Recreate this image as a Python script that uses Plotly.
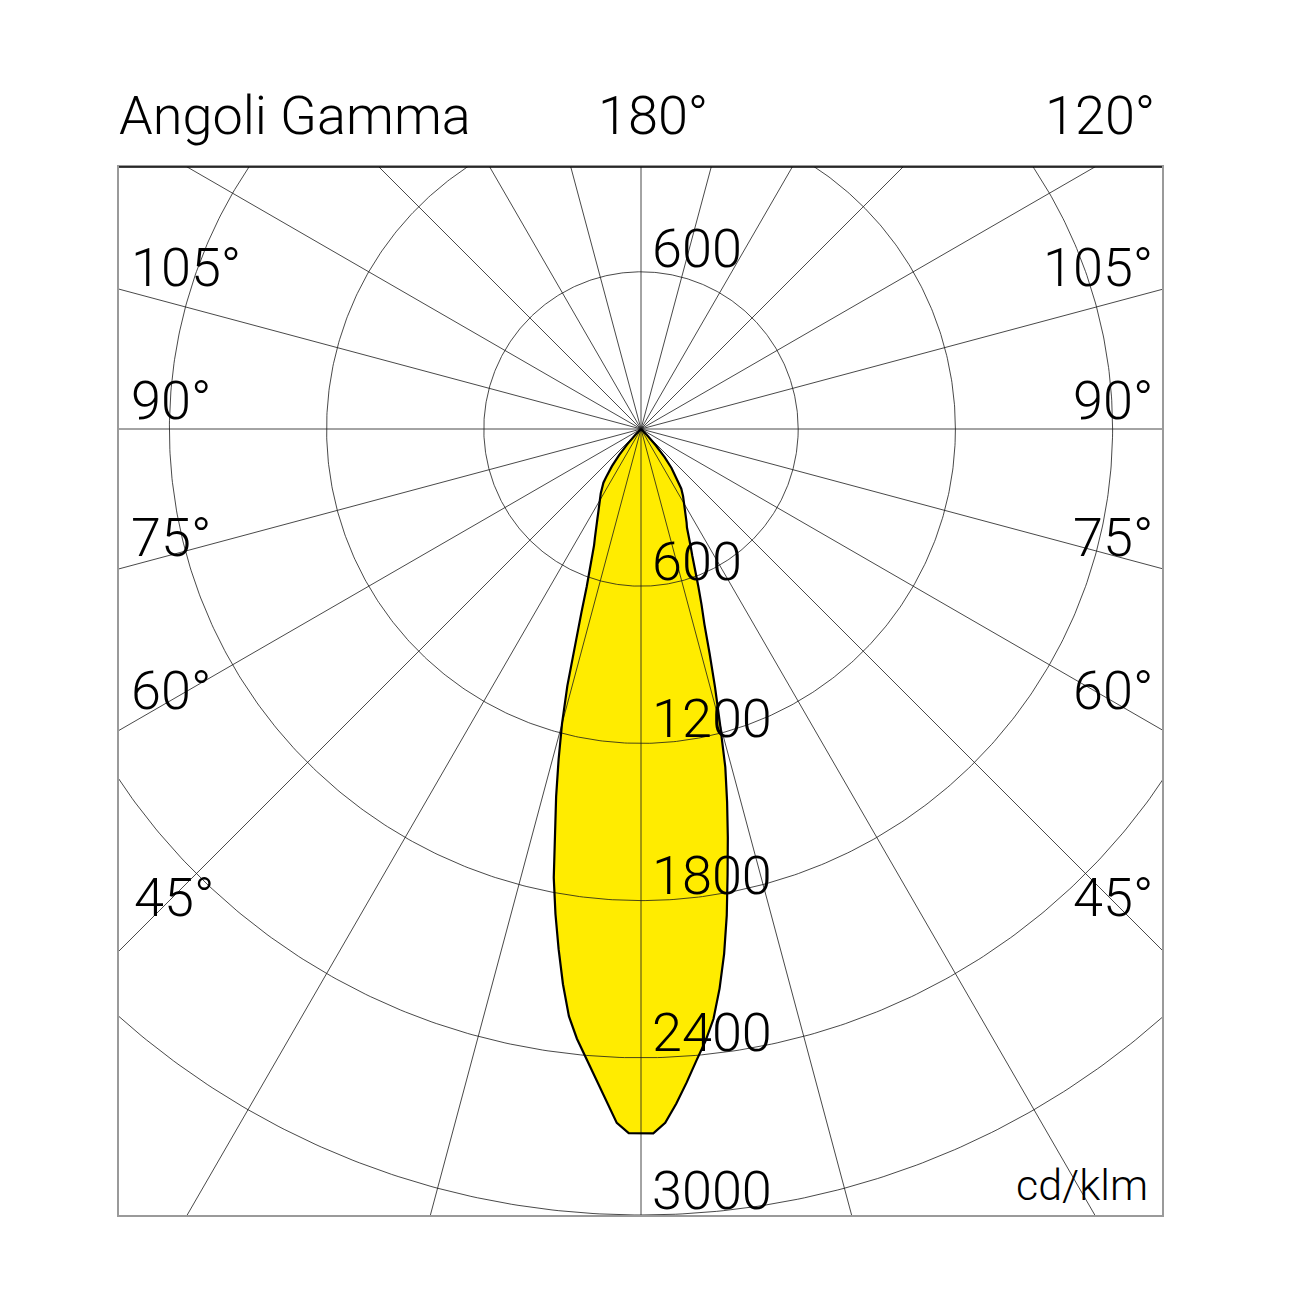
import numpy as np
import plotly.graph_objects as go

# ---------------- data ----------------
gamma_left = [0, 1, 2, 3, 4, 5, 6, 7, 8, 9, 10, 11, 12, 13, 14, 15, 16, 17, 18, 19, 20,
              21, 22, 23, 24, 25, 26, 27, 28, 30, 32, 34, 35, 36, 38, 40, 42, 44, 46]
cd_left = [2688, 2688, 2650, 2565, 2485, 2412, 2340, 2258, 2140, 2010, 1880, 1745, 1582, 1440,
           1300, 1165, 1020, 865, 735, 636, 572, 508, 478, 450, 420, 398, 379, 360, 341, 314,
           290, 264, 250, 226, 180, 130, 80, 32, 0]

gamma_right = [0, 1, 2, 3, 4, 5, 6, 7, 8, 9, 10, 11, 12, 13, 14, 15, 16, 17, 18, 19, 20,
               21, 22, 23, 24, 25, 26, 28, 30, 32, 34, 36, 38, 40, 42, 44, 46]
cd_right = [2688, 2689, 2650, 2578, 2500, 2421, 2350, 2269, 2156, 2028, 1885, 1732, 1594, 1461,
            1330, 1165, 1025, 895, 783, 710, 640, 582, 523, 484, 450, 415, 397, 363, 330, 303,
            275, 230, 189, 140, 85, 35, 0]

circle_values = [600, 1200, 1800, 2400, 3000]
radial_step_deg = 15
unit_label = "cd/klm"
title_label = "Angoli Gamma"
top_labels = ["180°", "120°"]
side_labels = ["105°", "90°", "75°", "60°", "45°"]

# ---------------- geometry / layout constants ----------------
W = H = 1302
K = 0.262                     # pixels per cd/klm
CX, CY = 641, 429             # pole position in pixels
BOX_L, BOX_R, BOX_T, BOX_B = 119, 1162, 167, 1215

def px_to_x(px):
    return (px - CX) / K

def px_to_y(py):
    return (CY - py) / K

def pap_x(px):
    return px / W

def pap_y(py):
    return 1 - py / H

FONT = "Roboto, 'Liberation Sans', Arial, sans-serif"
GRID = "#1a1a1a"

fig = go.Figure()

def polar_xy(gammas, vals, side):
    g = np.radians(np.asarray(gammas, dtype=float))
    v = np.asarray(vals, dtype=float)
    return side * v * np.sin(g), -v * np.cos(g)

xr, yr = polar_xy(gamma_right, cd_right, 1)
xl, yl = polar_xy(gamma_left, cd_left, -1)
poly_x = np.concatenate([xr[::-1], xl, [xr[-1]]])
poly_y = np.concatenate([yr[::-1], yl, [yr[-1]]])

# filled lobe
fig.add_trace(go.Scatter(x=poly_x, y=poly_y, mode="lines", fill="toself",
                         fillcolor="#FFEC00", line=dict(width=0), hoverinfo="skip",
                         showlegend=False))

# concentric circles
t = np.linspace(0, 2 * np.pi, 721)
cx_all, cy_all = [], []
for r in circle_values:
    cx_all += list(r * np.cos(t)) + [None]
    cy_all += list(r * np.sin(t)) + [None]
fig.add_trace(go.Scatter(x=cx_all, y=cy_all, mode="lines",
                         line=dict(color=GRID, width=0.8), hoverinfo="skip", showlegend=False))

# radial lines every 15 degrees
far = 6000
rx, ry = [], []
for a in range(0, 360, radial_step_deg):
    ang = np.radians(a)
    rx += [0, far * np.sin(ang), None]
    ry += [0, -far * np.cos(ang), None]
fig.add_trace(go.Scatter(x=rx, y=ry, mode="lines",
                         line=dict(color=GRID, width=0.8), hoverinfo="skip", showlegend=False))

# lobe outline
fig.add_trace(go.Scatter(x=poly_x, y=poly_y, mode="lines",
                         line=dict(color="black", width=2.2), hoverinfo="skip",
                         showlegend=False))

def txt(size):
    return dict(family=FONT, size=size, color="black", weight=300)

annotations = []
# radial value labels (just above each circle, on the lower half) + top 600
for r in circle_values:
    annotations.append(dict(x=0, y=-r, xref="x", yref="y", text=str(r), showarrow=False,
                            xanchor="left", yanchor="middle", xshift=9, yshift=25, font=txt(54)))
annotations.append(dict(x=0, y=circle_values[0], xref="x", yref="y", text=str(circle_values[0]),
                        showarrow=False, xanchor="left", yanchor="middle", xshift=9, yshift=23,
                        font=txt(54)))

# top row (outside the frame -> paper coordinates)
annotations.append(dict(x=pap_x(117), y=pap_y(116), xref="paper", yref="paper", text=title_label,
                        showarrow=False, xanchor="left", yanchor="middle", font=txt(54)))
annotations.append(dict(x=pap_x(596), y=pap_y(116), xref="paper", yref="paper", text=top_labels[0],
                        showarrow=False, xanchor="left", yanchor="middle", font=txt(54)))
annotations.append(dict(x=pap_x(1157), y=pap_y(116), xref="paper", yref="paper", text=top_labels[1],
                        showarrow=False, xanchor="right", yanchor="middle", font=txt(54)))

# side gamma labels
side_y_px = [268, 400, 537, 690, 897]
side_left_px = [129, 129, 129, 129, 132]
for lab, ypx, lpx in zip(side_labels, side_y_px, side_left_px):
    annotations.append(dict(x=pap_x(lpx), y=pap_y(ypx), xref="paper", yref="paper", text=lab,
                            showarrow=False, xanchor="left", yanchor="middle", font=txt(54)))
    annotations.append(dict(x=pap_x(1155), y=pap_y(ypx), xref="paper", yref="paper", text=lab,
                            showarrow=False, xanchor="right", yanchor="middle", font=txt(54)))

# unit
annotations.append(dict(x=pap_x(1150), y=pap_y(1185), xref="paper", yref="paper", text=unit_label,
                        showarrow=False, xanchor="right", yanchor="middle", font=txt(43)))

fig.update_layout(
    width=W, height=H, margin=dict(l=0, r=0, t=0, b=0),
    paper_bgcolor="white", plot_bgcolor="white",
    xaxis=dict(range=[px_to_x(BOX_L), px_to_x(BOX_R)],
               domain=[BOX_L / W, BOX_R / W],
               showgrid=False, zeroline=False, showticklabels=False, ticks="",
               showline=True, mirror=True, linecolor="#9a9a9a", linewidth=1.5),
    yaxis=dict(range=[px_to_y(BOX_B), px_to_y(BOX_T)],
               domain=[(H - BOX_B) / H, (H - BOX_T) / H],
               showgrid=False, zeroline=False, showticklabels=False, ticks="",
               showline=True, mirror=True, linecolor="#9a9a9a", linewidth=1.5),
    annotations=annotations,
    shapes=[dict(type="line", xref="paper", yref="paper",
                 x0=BOX_L / W, x1=BOX_R / W, y0=(H - BOX_T) / H, y1=(H - BOX_T) / H,
                 line=dict(color="black", width=1.5), layer="above")],
    showlegend=False,
)

fig.write_html("out.html", config={"displayModeBar": False},
               post_script="document.body.style.margin='0';")
